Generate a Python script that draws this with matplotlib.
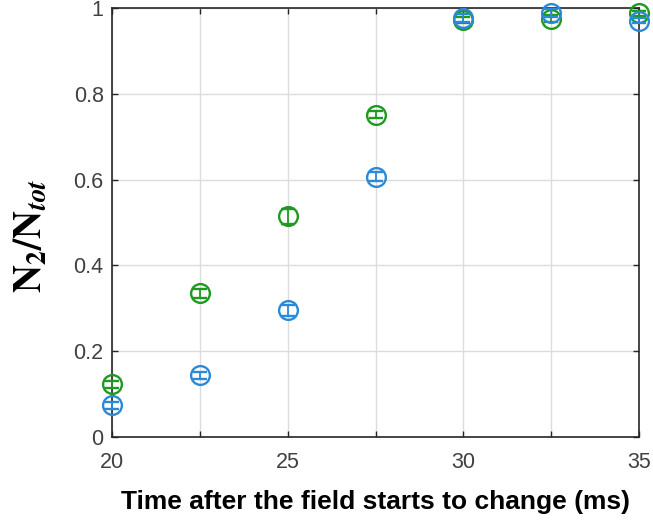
import numpy as np
import matplotlib.pyplot as plt

plt.rcParams['font.family'] = ['Liberation Sans', 'DejaVu Sans']
plt.rcParams['mathtext.fontset'] = 'stix'

# time after the field starts to change (ms)
t = np.array([20, 22.5, 25, 27.5, 30, 32.5, 35])

# fraction N2/Ntot, two runs
frac_green = np.array([0.123, 0.335, 0.514, 0.751, 0.972, 0.975, 0.988])
err_green = np.array([0.008, 0.010, 0.018, 0.008, 0.008, 0.008, 0.006])
frac_blue = np.array([0.074, 0.144, 0.295, 0.607, 0.977, 0.988, 0.970])
err_blue = np.array([0.008, 0.008, 0.012, 0.010, 0.010, 0.010, 0.006])

green = '#1f991f'
blue = '#2b8ad8'

fig = plt.figure(figsize=(6.53, 5.23), dpi=100)
ax = fig.add_axes([112 / 653, 1 - 437 / 523, (639 - 112) / 653, (437 - 8) / 523])

ax.errorbar(t, frac_green, yerr=err_green, fmt='o', mfc='none', mec=green,
            ecolor=green, ms=13.5, mew=1.7, elinewidth=1.3, capsize=5,
            clip_on=False, zorder=3)
ax.errorbar(t, frac_blue, yerr=err_blue, fmt='o', mfc='none', mec=blue,
            ecolor=blue, ms=13.5, mew=1.7, elinewidth=1.3, capsize=5,
            clip_on=False, zorder=4)

ax.set_xlim(20, 35)
ax.set_ylim(0, 1)
ax.set_xticks([20, 25, 30, 35])
ax.set_xticks([22.5, 27.5, 32.5], minor=True)
ax.set_yticks([0, 0.2, 0.4, 0.6, 0.8, 1])
ax.set_yticklabels(['0', '0.2', '0.4', '0.6', '0.8', '1'])
ax.grid(True, which='both', color='#dcdcdc', linewidth=1)
ax.set_axisbelow(True)
ax.tick_params(which='both', direction='in', top=True, right=True,
               length=4, width=1, labelsize=15.5, labelcolor='#404040',
               color='#262626')
ax.tick_params(axis='x', pad=11)
ax.tick_params(axis='y', pad=6)
for s in ax.spines.values():
    s.set_color('#262626')
    s.set_linewidth(1.2)

ax.set_xlabel('Time after the field starts to change (ms)', fontsize=19,
              fontweight='bold', labelpad=12)
ax.set_ylabel(r'$\mathbf{N}_\mathbf{2}\mathbf{/N}_{\boldsymbol{tot}}$',
              fontsize=28)
ax.yaxis.set_label_coords(-0.12, 0.47)

fig.savefig('out.png', dpi=100)
